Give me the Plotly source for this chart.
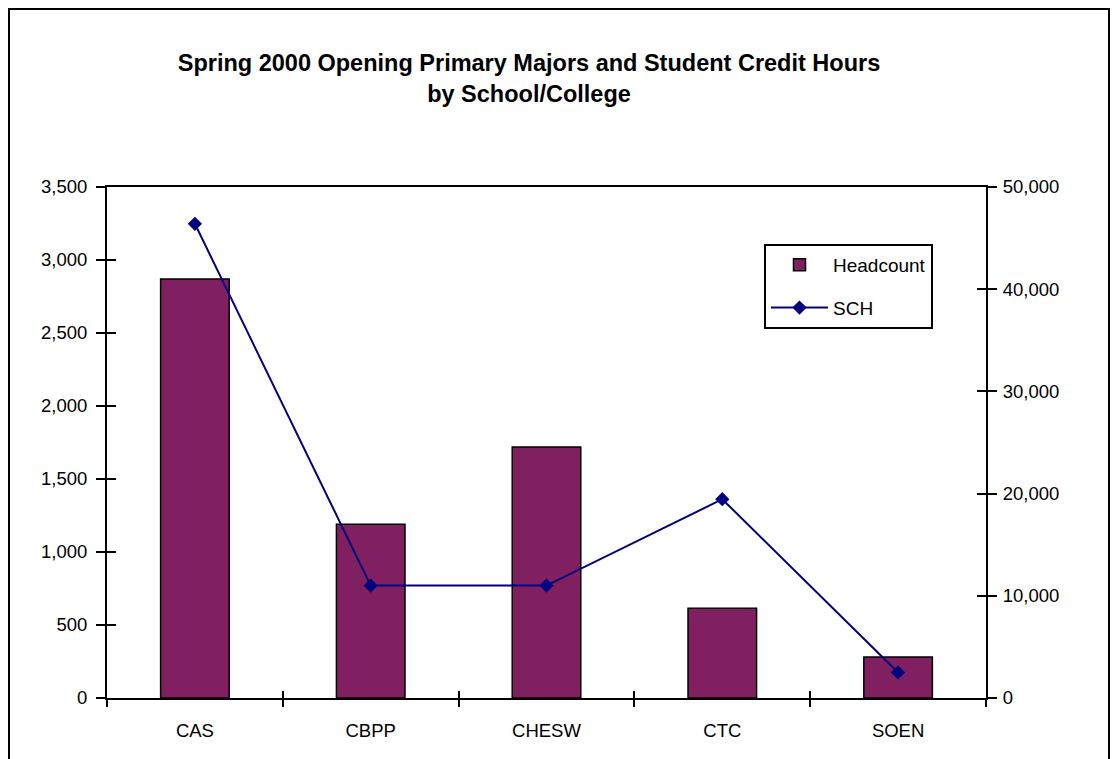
import plotly.graph_objects as go

categories = ["CAS", "CBPP", "CHESW", "CTC", "SOEN"]
headcount = [2870, 1190, 1720, 615, 280]
sch = [46400, 11000, 11000, 19450, 2500]
left_ticks = [0, 500, 1000, 1500, 2000, 2500, 3000, 3500]
right_ticks = [0, 10000, 20000, 30000, 40000, 50000]

# page has an 8px body margin; work in figure coordinates
W, H = 1110, 751
L, R, T, B = 99, 978, 179, 690
pw, ph = R - L, B - T

def px(x):
    return (x - L) / pw

def py(y):
    return (B - y) / ph

font = "Liberation Sans, Arial, sans-serif"

fig = go.Figure()
fig.add_trace(go.Bar(
    x=categories, y=headcount, name="Headcount", width=0.39,
    marker=dict(color="#802060", line=dict(color="black", width=1.5)),
    yaxis="y", legendgroup="a",
))
fig.add_trace(go.Scatter(
    x=categories, y=sch, name="SCH", mode="lines+markers",
    line=dict(color="#000080", width=2),
    marker=dict(symbol="diamond", size=11, color="#000080"),
    yaxis="y2", legendgroup="b",
))
# empty helper traces so the inside-tick overlay axes get drawn
fig.add_trace(go.Scatter(x=[None], y=[None], xaxis="x2", yaxis="y3",
                         showlegend=False, hoverinfo="skip", mode="markers"))
fig.add_trace(go.Scatter(x=[None], y=[None], xaxis="x2", yaxis="y4",
                         showlegend=False, hoverinfo="skip", mode="markers"))

tick_common = dict(tickwidth=2, tickcolor="black", showgrid=False, zeroline=False)

fig.update_layout(
    width=W, height=H,
    margin=dict(l=L, r=W - R, t=T, b=H - B, pad=0),
    paper_bgcolor="white", plot_bgcolor="white",
    font=dict(family=font, size=18.5, color="black"),
    showlegend=True,
    title=dict(
        text="<b>Spring 2000 Opening Primary Majors and Student Credit Hours<br>by School/College</b>",
        x=(521) / W, xanchor="center", xref="container",
        y=1 - 63 / H, yanchor="middle", yref="container",
        font=dict(family=font, size=23.5, color="black"),
    ),
    xaxis=dict(
        showline=True, linecolor="black", linewidth=2, mirror=True,
        ticks="outside", tickson="boundaries", ticklen=7,
        tickfont=dict(size=18.5), ticklabelstandoff=15, **tick_common,
    ),
    xaxis2=dict(
        overlaying="x", range=[-0.5, 4.5], tickvals=[0.5, 1.5, 2.5, 3.5],
        ticks="inside", ticklen=7, showticklabels=False, showline=False,
        anchor="y3", side="bottom", **tick_common,
    ),
    yaxis=dict(
        range=[0, 3500], tickvals=left_ticks,
        tickformat=",", showline=True, linecolor="black", linewidth=2,
        ticks="outside", ticklen=9, tickfont=dict(size=18.5),
        ticklabelstandoff=5, **tick_common,
    ),
    yaxis2=dict(
        range=[0, 50000], tickvals=right_ticks,
        tickformat=",", overlaying="y", side="right",
        showline=True, linecolor="black", linewidth=2,
        ticks="outside", ticklen=9, tickfont=dict(size=18.5),
        ticklabelstandoff=2, **tick_common,
    ),
    yaxis3=dict(
        range=[0, 3500], tickvals=left_ticks, overlaying="y", side="left",
        ticks="inside", ticklen=9, showticklabels=False, showline=False,
        anchor="x2", **tick_common,
    ),
    yaxis4=dict(
        range=[0, 50000], tickvals=right_ticks, overlaying="y", side="right",
        ticks="inside", ticklen=9, showticklabels=False, showline=False,
        anchor="x2", **tick_common,
    ),
    legend=dict(
        x=px(756), y=py(236), xanchor="left", yanchor="top",
        bordercolor="black", borderwidth=2, bgcolor="white",
        font=dict(size=19), tracegroupgap=15, itemwidth=57,
    ),
    shapes=[dict(
        type="rect", xref="paper", yref="paper",
        x0=px(1), x1=px(1101), y0=py(1), y1=py(800),
        line=dict(color="black", width=2), fillcolor="rgba(0,0,0,0)", layer="below",
    )],
)

fig.write_html("out.html")
